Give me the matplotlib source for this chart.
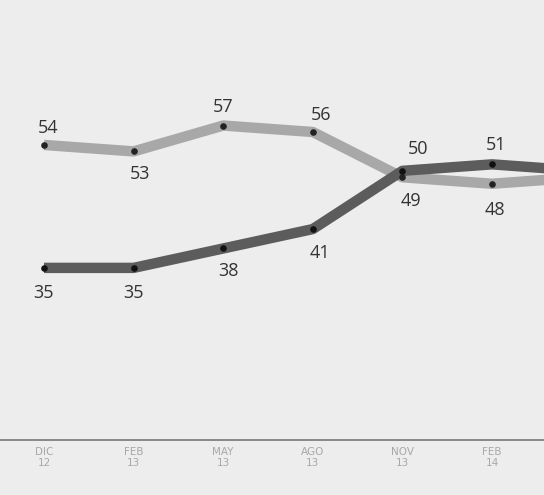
import matplotlib.pyplot as plt
import numpy as np

months = ["DIC\n12", "FEB\n13", "MAY\n13", "AGO\n13", "NOV\n13", "FEB\n14", ""]
light_vals = [54, 53, 57, 56, 49, 48, 49]
dark_vals = [35, 35, 38, 41, 50, 51, 50]
n_labeled = 6

# label offsets in points (dx, dy), kept apart from the data
light_off = [(3, 12), (5, -16), (0, 13), (6, 12), (6, -17), (2, -19)]
dark_off = [(0, -18), (0, -18), (4, -16), (5, -17), (11, 16), (3, 14)]

fig = plt.figure(figsize=(5.44, 4.95), dpi=100)
fig.patch.set_facecolor("#ededed")
ax = fig.add_axes([0, 55 / 495, 1, 440 / 495])
ax.set_facecolor("#ededed")

x = np.arange(len(months))
ax.plot(x, light_vals, color="#a8a8a8", lw=7.5, solid_capstyle="butt", zorder=2)
ax.plot(x, dark_vals, color="#5c5c5c", lw=7.5, solid_capstyle="butt", zorder=3)
ax.scatter(x[:n_labeled], light_vals[:n_labeled], s=14, color="#222222", zorder=4)
ax.scatter(x[:n_labeled], dark_vals[:n_labeled], s=14, color="#111111", zorder=5)

for i in range(n_labeled):
    ax.annotate(str(light_vals[i]), (x[i], light_vals[i]), xytext=light_off[i],
                textcoords="offset points", ha="center", va="center",
                fontsize=13, color="#333333", family="Open Sans")
    ax.annotate(str(dark_vals[i]), (x[i], dark_vals[i]), xytext=dark_off[i],
                textcoords="offset points", ha="center", va="center",
                fontsize=13, color="#333333", family="Open Sans")

ax.set_xlim(-0.491, 5.58)
ax.set_ylim(8.4, 76.4)
ax.set_xticks(x[:n_labeled])
ax.set_xticklabels(months[:n_labeled], fontsize=7.5, color="#a8a8a8",
                   linespacing=1.1, family="DejaVu Sans")
ax.tick_params(axis="x", length=0, pad=5)
ax.set_yticks([])
for s in ["top", "left", "right"]:
    ax.spines[s].set_visible(False)
ax.spines["bottom"].set_color("#777777")
ax.spines["bottom"].set_linewidth(1.2)

fig.savefig("out.png", dpi=100, facecolor=fig.get_facecolor())
